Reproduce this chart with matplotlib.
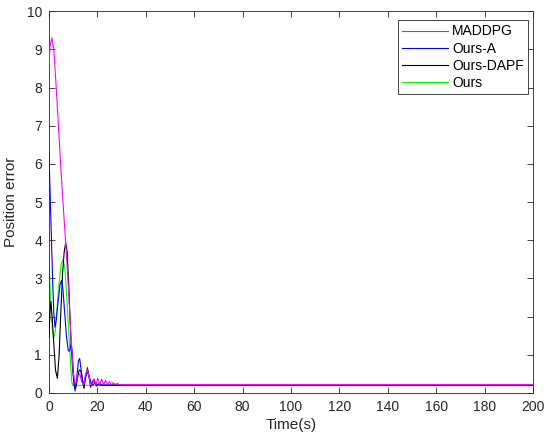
import matplotlib
matplotlib.use("Agg")
import matplotlib.pyplot as plt

plt.rcParams['font.family'] = ['Liberation Sans', 'DejaVu Sans']

# MADDPG
t_maddpg = [0, 0.5, 1.2, 2, 3, 4, 5, 6, 7, 8, 9, 10, 10.8, 11.5, 12, 12.8, 13.5, 14.3,
            15, 15.8, 16.5, 17.2, 18, 18.7, 19.4, 20.2, 21, 21.8, 22.6, 23.4, 24.2, 25,
            25.8, 26.6, 27.4, 28.2, 29, 30, 200]
v_maddpg = [8.6, 9.1, 9.3, 9.0, 8.0, 6.9, 5.8, 4.8, 3.85, 2.8, 1.6, 0.55, 0.25, 0.3, 0.45,
            0.5, 0.3, 0.2, 0.45, 0.62, 0.45, 0.2, 0.25, 0.36, 0.22, 0.38, 0.22, 0.36, 0.22,
            0.33, 0.22, 0.3, 0.22, 0.27, 0.22, 0.25, 0.22, 0.22, 0.22]

# Ours-A
t_oursa = [0, 0.5, 1, 1.5, 2, 2.5, 3, 3.8, 4.6, 5.2, 5.8, 6.5, 7.2, 8, 8.6, 9.2, 9.7,
           10.2, 10.8, 11.5, 12.2, 12.7, 13.3, 14, 14.6, 15.3, 16, 16.8, 17.5, 18.2, 19,
           20, 200]
v_oursa = [6.3, 5.2, 4.1, 3.0, 2.1, 1.72, 1.9, 2.4, 2.85, 2.95, 2.7, 2.1, 1.5, 1.1, 1.1,
           1.3, 1.0, 0.4, 0.05, 0.4, 0.85, 0.9, 0.6, 0.3, 0.25, 0.45, 0.55, 0.4, 0.25,
           0.2, 0.28, 0.21, 0.21]

# Ours-DAPF
t_dapf = [0, 0.4, 0.8, 1.3, 2, 2.7, 3.5, 4.2, 4.9, 5.6, 6.3, 6.9, 7.5, 8.2, 9, 9.8,
          10.5, 11, 11.7, 12.5, 13.2, 13.8, 14.5, 15.2, 15.9, 16.5, 17.2, 17.8, 18.4,
          19, 19.7, 20.5, 21.5, 200]
v_dapf = [1.45, 2.1, 2.4, 2.0, 1.3, 0.6, 0.38, 1.0, 2.1, 3.1, 3.7, 3.92, 3.7, 2.8, 1.5,
          0.6, 0.15, 0.1, 0.35, 0.6, 0.58, 0.3, 0.12, 0.45, 0.66, 0.45, 0.15, 0.25, 0.35,
          0.25, 0.18, 0.24, 0.2, 0.2]

# Ours
t_ours = [0, 0.5, 1, 1.5, 2, 2.6, 3.3, 4.2, 5, 5.8, 6.5, 7.2, 8, 8.8, 9.4, 9.8, 200]
v_ours = [3.6, 2.7, 2.0, 1.6, 1.45, 1.6, 2.2, 2.9, 3.35, 3.5, 3.3, 2.7, 1.8, 0.9, 0.3,
          0.2, 0.2]

labels = ["MADDPG", "Ours-A", "Ours-DAPF", "Ours"]
colors = ["#ff00ff", "#0000ff", "#000000", "#00ff00"]
zorders = [5, 4, 3, 2]

fig = plt.figure(figsize=(5.5, 4.46), dpi=100)
ax = fig.add_axes([0.089, 0.119, 0.880, 0.856])

series = [(t_maddpg, v_maddpg), (t_oursa, v_oursa), (t_dapf, v_dapf), (t_ours, v_ours)]
for (t, v), lab, c, z in zip(series, labels, colors, zorders):
    ax.plot(t, v, color=c, lw=0.8, label=lab, zorder=z)

ax.set_xlim(0, 200)
ax.set_ylim(0, 10)
ax.set_xticks(range(0, 201, 20))
ax.set_yticks(range(0, 11, 1))
ax.tick_params(direction='in', top=True, right=True, length=4, width=0.6,
               labelsize=10, colors='#262626', pad=5)
for s in ax.spines.values():
    s.set_linewidth(0.6)
    s.set_color('#262626')

ax.set_xlabel("Time(s)", fontsize=11, color='#262626', labelpad=3)
ax.set_ylabel("Position error", fontsize=11, color='#262626', labelpad=6)

leg = ax.legend(loc='upper right', bbox_to_anchor=(0.990, 0.976), borderaxespad=0,
                fontsize=10, handlelength=3.3, handletextpad=0.3, labelspacing=0.22,
                borderpad=0.3, fancybox=False, framealpha=1, edgecolor='#262626')
leg.get_frame().set_linewidth(0.6)
leg.set_zorder(10)

fig.savefig("out.png", dpi=100)
